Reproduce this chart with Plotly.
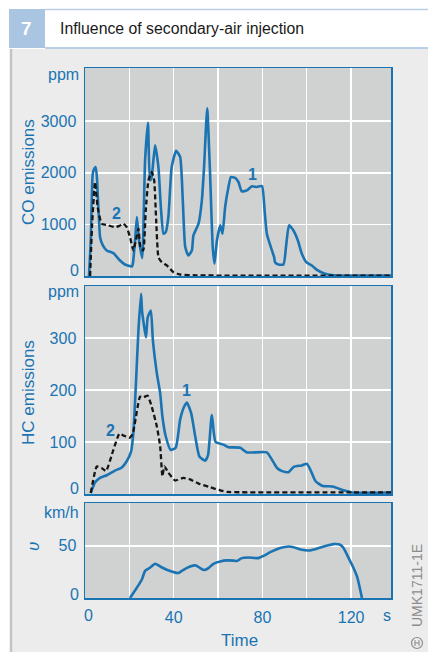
import plotly.graph_objects as go

# ---------------- data ----------------
co1_t = [1.8, 2.6, 3.5, 4.2, 4.8, 5.4, 5.7, 6.3, 6.8, 8.0, 9.8, 12.8, 15.8, 18.0, 21.1, 21.6, 22.6, 23.4,
         24.2, 24.8, 25.8, 27.1, 28.4, 29.3, 30.0, 31.6, 33.1, 34.3, 35.4, 36.4, 37.6, 39.1, 41.1, 42.9,
         44.1, 45.2, 46.6, 48.2, 48.9, 51.2, 52.7, 53.7, 55.1, 56.4, 57.6, 58.4, 59.5, 61.0, 62.0, 63.2,
         64.7, 65.8, 67.7, 69.2, 70.7, 73.0, 75.3, 77.5, 79.8, 81.0, 82.0, 84.3, 85.3, 85.7, 87.3, 89.5,
         90.8, 92.0, 94.0, 96.0, 97.8, 99.8, 102.3, 104.6, 107.6, 112.1, 120.0, 138.0]
co1_v = [0, 690, 1984, 2080, 2113, 1900, 1600, 1100, 753, 600, 495, 443, 300, 223, 184, 240, 700, 1142,
         753, 560, 350, 2243, 2967, 1854, 1900, 2534, 2113, 1272, 819, 850, 1142, 2113, 2424, 2307,
         1466, 560, 398, 495, 786, 1013, 1466, 2113, 3250, 1984, 560, 236, 689, 980, 819, 1336,
         1724, 1918, 1900, 1821, 1640, 1660, 1738, 1725, 1745, 1272, 819, 495, 365, 268, 223, 223,
         625, 980, 883, 689, 430, 268, 204, 120, 55, 16, 8, 8]

co2_t = [2.3, 3.2, 4.5, 5.7, 7.5, 10.5, 13.5, 15.5, 17.3, 18.8, 20.3, 21.8, 23.0, 24.1, 25.0, 26.3, 27.4,
         28.6, 30.1, 31.2, 32.1, 33.1, 34.6, 36.9, 39.9, 42.9, 50.0, 138.0]
co2_v = [0, 1000, 1821, 1336, 1013, 980, 948, 970, 1013, 948, 753, 495, 700, 916, 560, 495, 1272,
         1854, 2016, 1854, 1078, 365, 268, 204, 74, 29, 12, 8]

hc1_t = [2.6, 4.5, 6.8, 9.8, 13.5, 16.6, 18.8, 20.8, 21.8, 22.9, 24.1, 25.3, 25.7, 26.6, 27.5, 28.3, 29.7,
         30.6, 32.4, 33.9, 34.9, 36.4, 38.6, 40.9, 42.9, 44.4, 45.9, 47.9, 49.7, 51.6, 54.2, 55.5, 57.2,
         58.9, 62.4, 64.7, 70.0, 73.0, 82.0, 84.3, 86.6, 88.9, 91.8, 94.1, 97.8, 100.1, 101.6, 103.9,
         106.9, 112.1, 116.6, 120.4, 138.0]
hc1_v = [2, 22, 31, 36, 45, 51, 63, 82, 117, 206, 315, 385, 353, 324, 301, 340, 353,
         296, 232, 194, 149, 111, 85, 89, 143, 165, 176, 155, 111, 72, 64, 75, 152,
         100, 95, 90, 89, 80, 80, 66, 50, 44, 42, 52, 55, 58, 47, 25,
         16, 14, 7, 3, 3]

hc2_t = [2.6, 5.3, 7.5, 9.5, 12.8, 15.5, 17.6, 20.0, 21.5, 24.8, 26.3, 28.3, 30.1, 32.4, 33.9, 34.9, 35.8,
         37.6, 40.6, 44.4, 47.4, 51.2, 56.4, 61.0, 64.0, 120.0, 138.0]
hc2_v = [2, 53, 50, 44, 85, 116, 112, 108, 115, 187, 186, 189, 168, 130, 92, 34, 53,
         41, 26, 31, 28, 20, 13, 7, 4, 3, 3]

v_t = [20.3, 23.3, 25.6, 27.1, 29.3, 31.6, 33.9, 36.9, 39.9, 42.1, 44.4, 47.4, 50.0, 51.9, 53.7, 55.7,
       57.9, 61.0, 64.0, 67.0, 68.5, 70.7, 73.7, 78.2, 80.5, 84.3, 88.0, 91.8, 94.1, 97.8, 100.8, 103.8,
       107.6, 112.1, 115.1, 116.6, 118.9, 121.1, 122.9, 124.9]
v_v = [0, 9.6, 17.5, 26, 29, 32.8, 30.2, 27, 24.8, 23.9, 27, 30.2, 31.2, 28.7, 26.8, 28.7,
       32.8, 35, 36, 35.8, 35.5, 38.2, 38.8, 38.2, 40.4, 44.6, 47.8, 49.3, 48.7, 46.2, 45.5, 46.8,
       49.3, 51.6, 51, 47.8, 38.2, 28.7, 19.1, 0]

x_ticks = [0, 20, 40, 60, 80, 100, 120]
x_labels = ["", "", "40", "", "80", "", "120"]   # "0" placed as annotation (slightly offset)
co_ticks = [0, 1000, 2000, 3000]
co_labels = ["", "1000", "2000", "3000"]
hc_ticks = [0, 100, 200, 300]
hc_labels = ["", "100", "200", "300"]
v_ticks = [0, 50]
v_labels = ["", "50"]

title_text = "Influence of secondary-air injection"
fig_number = "7"
code_text = "UMK1711-1E"

# ---------------- styling ----------------
W, H = 428, 652
BLUE = "#1a74b3"
PLOT_BG = "#d0d1d1"
PANEL_BG = "#ececec"
FONT = "Liberation Sans, Arial, sans-serif"

def px(x):
    return x / W

def py(y):
    return 1 - y / H

fig = go.Figure()

solid = dict(color=BLUE, width=2.6)
dashed = dict(color="#151515", width=2.3, dash="5px,3px")

fig.add_trace(go.Scatter(x=co1_t, y=co1_v, mode="lines", line=dict(**solid, shape="spline", smoothing=0.5),
                         xaxis="x", yaxis="y", cliponaxis=False, showlegend=False))
fig.add_trace(go.Scatter(x=co2_t, y=co2_v, mode="lines", line=dict(**dashed, shape="spline", smoothing=0.4),
                         xaxis="x", yaxis="y", cliponaxis=False, showlegend=False))
fig.add_trace(go.Scatter(x=hc1_t, y=hc1_v, mode="lines", line=dict(**solid, shape="spline", smoothing=0.5),
                         xaxis="x2", yaxis="y2", cliponaxis=False, showlegend=False))
fig.add_trace(go.Scatter(x=hc2_t, y=hc2_v, mode="lines", line=dict(**dashed, shape="spline", smoothing=0.4),
                         xaxis="x2", yaxis="y2", cliponaxis=False, showlegend=False))
fig.add_trace(go.Scatter(x=v_t, y=v_v, mode="lines", line=dict(**solid, shape="spline", smoothing=0.5),
                         xaxis="x3", yaxis="y3", cliponaxis=False, showlegend=False))

xdom = [px(85), px(391)]
common_x = dict(range=[0, 138], tickvals=x_ticks, showgrid=True, gridcolor="white", gridwidth=1.5,
                showline=True, linecolor=BLUE, linewidth=1.5, mirror=True, zeroline=False,
                domain=xdom, fixedrange=True)
common_y = dict(showgrid=True, gridcolor="white", gridwidth=1.5, showline=True, linecolor=BLUE,
                linewidth=1.5, mirror=True, zeroline=False, ticks="outside", ticklen=4,
                tickcolor="rgba(0,0,0,0)", tickfont=dict(family=FONT, size=16, color=BLUE),
                fixedrange=True)

fig.update_layout(
    width=W, height=H, margin=dict(l=0, r=0, t=0, b=0), autosize=False,
    paper_bgcolor=PANEL_BG, plot_bgcolor=PLOT_BG,
    font=dict(family=FONT, color=BLUE),
    xaxis=dict(**common_x, anchor="y", showticklabels=False),
    xaxis2=dict(**common_x, anchor="y2", showticklabels=False),
    xaxis3=dict(**common_x, anchor="y3", showticklabels=True, ticktext=x_labels,
                ticks="outside", ticklen=4, tickcolor="rgba(0,0,0,0)",
                tickfont=dict(family=FONT, size=16, color=BLUE)),
    yaxis=dict(**common_y, range=[0, 4030], tickvals=co_ticks, ticktext=co_labels, anchor="x",
               domain=[py(276), py(68)]),
    yaxis2=dict(**common_y, range=[0, 400], tickvals=hc_ticks, ticktext=hc_labels, anchor="x2",
                domain=[py(494), py(286)]),
    yaxis3=dict(**common_y, range=[0, 91], tickvals=v_ticks, ticktext=v_labels, anchor="x3",
                domain=[py(598), py(503)]),
)

shapes = [
    # white page areas outside the grey panel
    dict(type="rect", xref="paper", yref="paper", x0=0, x1=1, y0=py(49), y1=1,
         fillcolor="white", line=dict(width=0), layer="below"),
    dict(type="rect", xref="paper", yref="paper", x0=0, x1=px(10), y0=0, y1=1,
         fillcolor="white", line=dict(width=0), layer="below"),
    dict(type="line", xref="paper", yref="paper", x0=px(11), x1=px(11), y0=0, y1=py(49),
         line=dict(color="#c4c4c4", width=2.5), layer="below"),
    # header
    dict(type="rect", xref="paper", yref="paper", x0=px(9), x1=px(45), y0=py(48), y1=py(9),
         fillcolor="#a9c5e2", line=dict(width=0), layer="below"),
    dict(type="line", xref="paper", yref="paper", x0=px(45), x1=1, y0=py(9.5), y1=py(9.5),
         line=dict(color="#b9cfe7", width=1.5), layer="below"),
    dict(type="line", xref="paper", yref="paper", x0=px(45), x1=1, y0=py(48), y1=py(48),
         line=dict(color="#b9cfe7", width=2), layer="below"),
    # Bosch logo (approximation)
    dict(type="circle", xref="paper", yref="paper", x0=px(411.5), x1=px(422.5), y0=py(648.5), y1=py(637.5),
         line=dict(color="#8c8c8c", width=1.2)),
    dict(type="line", xref="paper", yref="paper", x0=px(414.5), x1=px(419.5), y0=py(643), y1=py(643),
         line=dict(color="#8c8c8c", width=1)),
    dict(type="line", xref="paper", yref="paper", x0=px(415), x1=px(415), y0=py(646), y1=py(640),
         line=dict(color="#8c8c8c", width=1)),
    dict(type="line", xref="paper", yref="paper", x0=px(419), x1=px(419), y0=py(646), y1=py(640),
         line=dict(color="#8c8c8c", width=1)),
]
fig.update_layout(shapes=shapes)

ann = []
def text(x, y, s, size=16, color=BLUE, xanchor="center", yanchor="middle", angle=0, bold=False,
         xref="paper", yref="paper"):
    ann.append(dict(x=x, y=y, xref=xref, yref=yref, text=(f"<b>{s}</b>" if bold else s),
                    showarrow=False, xanchor=xanchor, yanchor=yanchor, textangle=angle,
                    font=dict(family=FONT, size=size, color=color)))

text(px(27), py(29), fig_number, size=19, color="white", bold=True)
text(px(58), py(29), title_text, size=15.8, color="#1a1a1a", xanchor="left")
# unit labels
text(px(81), py(74), "ppm", xanchor="right")
text(px(81), py(291), "ppm", xanchor="right")
text(px(81), py(512), "km/h", xanchor="right")
# zero labels (sit slightly above the axis in the original)
text(px(81), py(270), "0", xanchor="right")
text(px(81), py(488), "0", xanchor="right")
text(px(81), py(594), "0", xanchor="right")
text(px(88), py(615), "0")
text(px(387), py(615), "s", xanchor="center")
text(px(240), py(640), "Time", size=17)
# axis titles
text(px(28), py(172), "CO emissions", size=17, angle=-90)
text(px(28), py(392), "HC emissions", size=17, angle=-90)
text(px(33), py(547), "<i>υ</i>", size=17, angle=-90)
# curve labels
text(75.7, 1960, "1", bold=True, xref="x", yref="y")
text(14.3, 1213, "2", bold=True, xref="x", yref="y")
text(45.9, 200, "1", bold=True, xref="x2", yref="y2")
text(11.3, 123, "2", bold=True, xref="x2", yref="y2")
# code
text(px(417), py(586), code_text, size=14, color="#8c8c8c", angle=-90)
fig.update_layout(annotations=ann)

fig.write_html("out.html", config={"displayModeBar": False, "staticPlot": True},
               post_script="document.body.style.margin='0';document.body.style.overflow='hidden';")
